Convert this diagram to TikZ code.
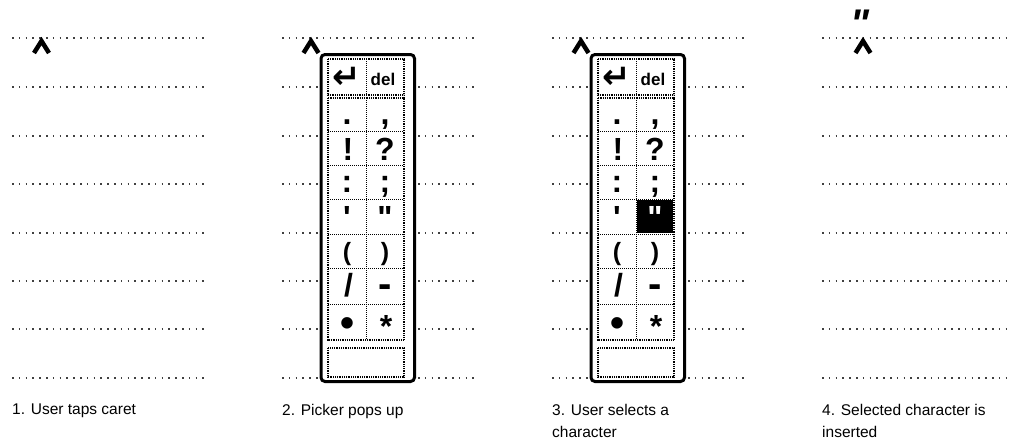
\documentclass[tikz,border=0pt]{standalone}
\usepackage{fontspec}
\setmainfont{Liberation Sans}
\newfontfamily\keyfont{Liberation Sans}[Ligatures=TeXOff]
\newfontfamily\symfont{DejaVu Sans}
\usepackage{tikz}
\usetikzlibrary{positioning}

\begin{document}
\begin{tikzpicture}[x=1pt, y=-1pt,
  ruled/.style={draw=black!75, line width=1.5pt, dash pattern=on 1.5pt off 5.3pt},
  caretmark/.style={line width=4.5pt, line join=miter, miter limit=20},
  frame/.style={draw, line width=3pt, rounded corners=4pt, fill=white},
  cellbox/.style={draw, line width=1.8pt, dash pattern=on 0.9pt off 0.9pt},
  celldiv/.style={draw, line width=1pt, dash pattern=on 1pt off 1pt},
  key/.style={inner sep=0pt, anchor=base, font=\keyfont\bfseries\fontsize{32}{32}\selectfont},
  caption/.style={anchor=north west, inner sep=0pt, align=left,
    font=\fontsize{15.5}{22}\selectfont}
]
  \useasboundingbox (0,0) rectangle (1014,447);

  \foreach \xa/\xb in {12/207, 282/477, 552/747, 822/1012}
    \foreach \ly in {38, 87, 136, 184, 233, 281, 329, 378}
      \draw[ruled] (\xa,\ly) -- (\xb,\ly);

  \foreach \cx in {41.5, 311, 581, 863}
    \draw[caretmark] (\cx-7.5,53) -- (\cx,41) -- (\cx+7.5,53);

  \foreach \sx/\selfill/\selink in {0/white/black, 270/black/white}{
    \begin{scope}[shift={(\sx,0)}]
      \draw[frame] (321,54.5) rectangle (414.5,381.5);
      \draw[cellbox] (328,59) rectangle (404,95);
      \draw[celldiv] (366,59) -- (366,95);
      \fill[\selfill] (367,200) rectangle (403,233);
      \draw[cellbox] (328,98) rectangle (404,340);
      \draw[celldiv] (366,98) -- (366,340);
      \foreach \ry in {131, 165, 199, 234, 268, 304}
        \draw[celldiv] (328,\ry) -- (404,\ry);
      \draw[cellbox] (328,348) rectangle (404,377);

      \node[key, anchor=center, font=\symfont\bfseries\fontsize{34}{34}\selectfont] (ret\sx) at (347,78) {↵};
      \node[key, font=\keyfont\bfseries\fontsize{17}{17}\selectfont] (del\sx) at (383,85) {del};
      \node[key] (period\sx) at (347,124) {.};
      \node[key] (comma\sx) at (385,124) {,};
      \node[key] (excl\sx) at (348,160) {!};
      \node[key] (quest\sx) at (385,160) {?};
      \node[key] (colon\sx) at (347,192) {:};
      \node[key] (semi\sx) at (385,192) {;};
      \node[key] (apos\sx) at (347,228) {'};
      \node[key, text=\selink] (quote\sx) at (385,228) {"};
      \node[key, font=\keyfont\bfseries\fontsize{25}{25}\selectfont] (lpar\sx) at (347,260) {(};
      \node[key, font=\keyfont\bfseries\fontsize{25}{25}\selectfont] (rpar\sx) at (385,260) {)};
      \node[key] (slash\sx) at (348.5,296) {/};
      \node[key, font=\keyfont\bfseries\fontsize{40}{40}\selectfont] (dash\sx) at (385,297) {-};
      \node[key, font=\keyfont\bfseries\fontsize{40}{40}\selectfont] (bullet\sx) at (347,336) {•};
      \node[key] (star\sx) at (386,337.5) {*};
    \end{scope}
  }

  \node[key, font=\keyfont\bfseries\itshape\fontsize{40}{40}\selectfont] (inserted) at (860,37) {"};

  \node[caption] (cap1) at (12,404) {1. User taps caret};
  \node[caption] (cap2) at (282,404) {2. Picker pops up};
  \node[caption] (cap3) at (552,404) {3. User selects a\\character};
  \node[caption] (cap4) at (822,404) {4. Selected character is\\inserted};
\end{tikzpicture}
\end{document}
